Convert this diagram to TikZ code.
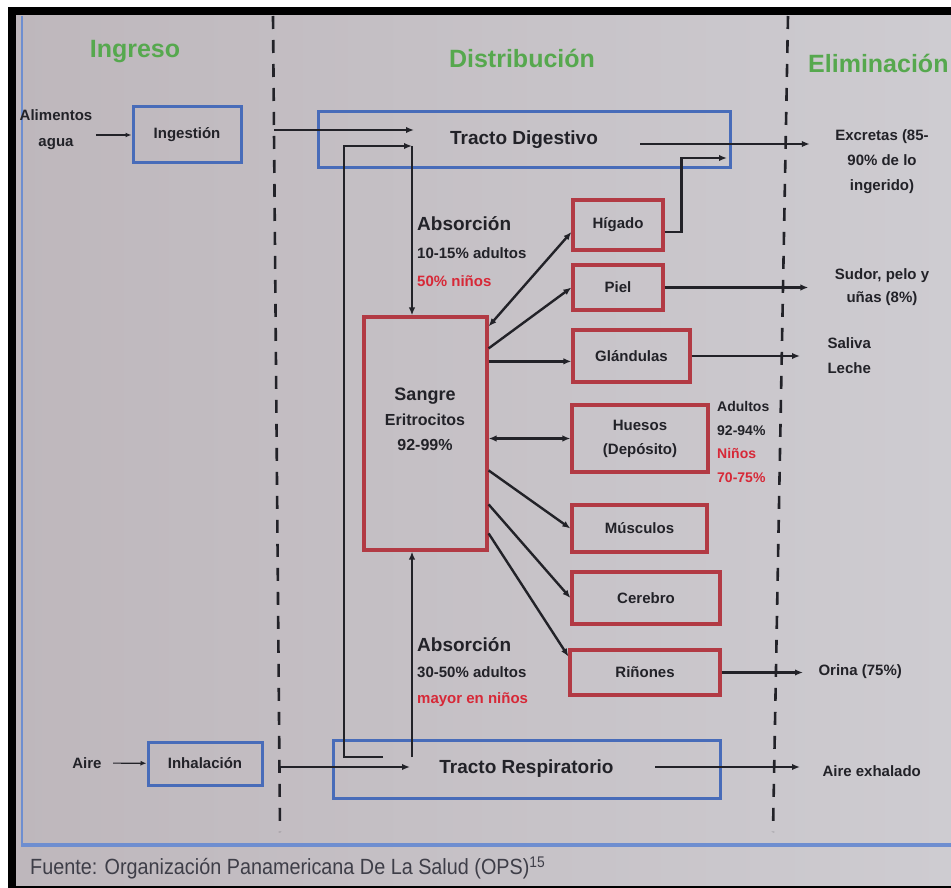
\documentclass[tikz,border=0pt]{standalone}
\usepackage{fontspec}
\setmainfont{Liberation Sans}
\newfontfamily\footfont{Liberation Sans}[FakeStretch=0.9]
\usetikzlibrary{arrows.meta,positioning,calc}
\definecolor{slideleft}{RGB}{190,183,188}
\definecolor{slideright}{RGB}{206,204,209}
\definecolor{boxblue}{RGB}{72,108,185}
\definecolor{frameblue}{RGB}{110,142,208}
\definecolor{boxred}{RGB}{178,58,68}
\definecolor{headgreen}{RGB}{86,168,78}
\definecolor{inkgray}{RGB}{34,34,40}
\definecolor{notered}{RGB}{215,40,55}
\definecolor{footgray}{RGB}{62,62,72}

\begin{document}
\begin{tikzpicture}[x=1pt,y=-1pt,
    every node/.style={font=\bfseries\fontsize{15}{23}\selectfont,text=inkgray},
    bluebox/.style={draw=boxblue,line width=3pt,inner sep=0pt},
    redbox/.style={draw=boxred,line width=3.2pt,inner sep=0pt},
    arr/.style={-{Latex[length=8pt,width=6.5pt]},line width=2.4pt,draw=inkgray},
    biarr/.style={arr,{Latex[length=8pt,width=6.5pt]}-{Latex[length=8pt,width=6.5pt]}},
    thinarr/.style={-{Latex[length=6pt,width=5pt]},line width=1.2pt,draw=inkgray},
    outarr/.style={arr,shorten >=#1},
    phase/.style={font=\bfseries\fontsize{25}{30}\selectfont,text=headgreen},
    divider/.style={draw=inkgray,line width=2.6pt,dash pattern=on 13pt off 11pt},
    note/.style={align=left,anchor=west,inner sep=0pt}]

  \useasboundingbox (0,0) rectangle (951,888);

  % ── slide background and photo frame ─────────────────────────────
  \fill[white] (0,0) rectangle (951,888);
  \shade[left color=slideleft,right color=slideright] (12,11) rectangle (951,888);
  \draw[black,line width=8pt] (12,888) -- (12,11) -- (951,11);
  \draw[black,line width=3pt] (12,887) -- (951,887);
  \draw[frameblue,line width=1.6pt] (22,16) -- (22,845);
  \draw[frameblue,line width=4pt] (21,845) -- (951,845);

  % ── column headers and dividers ──────────────────────────────────
  \node[phase] (ingreso) at (135,52) {Ingreso};
  \node[phase] (distrib) at (522,58) {Distribución};
  \node[phase,anchor=west,inner sep=0pt] (elimin) at (808,63) {Eliminación};

  \draw[divider] (273,16) -- (280,832);
  \draw[divider] (788,16) -- (773,832);

  % ── intake ───────────────────────────────────────────────────────
  \node[bluebox,minimum width=108pt,minimum height=56pt] (ingest) at (187,135) {Ingestión};
  \node[align=center,font=\bfseries\fontsize{15}{26}\selectfont] (alim) at (56,130) {Alimentos\\agua};
  \node[bluebox,minimum width=114pt,minimum height=43pt] (inhal) at (205,763.5) {Inhalación};
  \node (aire) at (87,763) {Aire};

  \draw[thinarr] (alim.east |- ingest.west) -- (ingest.west);
  \draw[thinarr,shorten <=8pt] (aire) -- (inhal);

  % ── tracts ───────────────────────────────────────────────────────
  \node[bluebox,minimum width=412pt,minimum height=56pt,
        font=\bfseries\fontsize{19}{23}\selectfont] (tractdig) at (524,140) {Tracto Digestivo};
  \node[bluebox,minimum width=387pt,minimum height=58pt,
        font=\bfseries\fontsize{19}{23}\selectfont] (tractresp) at (526.5,769) {Tracto Respiratorio};

  % ── blood ────────────────────────────────────────────────────────
  \node[redbox,minimum width=123pt,minimum height=233pt] (sangre) at (425.5,433.5) {};
  \node[align=center,font=\bfseries\fontsize{16}{25}\selectfont] (sangretxt) at (425,419)
    {{\fontsize{18}{22}\selectfont Sangre}\\Eritrocitos\\92-99\%};

  % ── organs ───────────────────────────────────────────────────────
  \node[redbox,minimum width=90pt,minimum height=50pt] (higado) at (618,225) {Hígado};
  \node[redbox,minimum width=90pt,minimum height=45pt] (piel) at (618,287.5) {Piel};
  \node[redbox,minimum width=117pt,minimum height=52pt] (glandulas) at (631.5,356) {Glándulas};
  \node[redbox,minimum width=136pt,minimum height=67pt,align=center,
        font=\bfseries\fontsize{15}{24}\selectfont] (huesos) at (640,438.5) {Huesos\\(Depósito)};
  \node[redbox,minimum width=135pt,minimum height=47pt] (musculos) at (639.5,528.5) {Músculos};
  \node[redbox,minimum width=148pt,minimum height=52pt] (cerebro) at (646,598) {Cerebro};
  \node[redbox,minimum width=150pt,minimum height=45pt] (rinones) at (645,672.5) {Riñones};

  % ── side notes ───────────────────────────────────────────────────
  \node[note,font=\bfseries\fontsize{15}{28}\selectfont] (absdig) at (417,252)
    {{\fontsize{19}{23}\selectfont Absorción}\\10-15\% adultos\\\textcolor{notered}{50\% niños}};
  \node[note,font=\bfseries\fontsize{15}{26}\selectfont] (absresp) at (417,672)
    {{\fontsize{19}{23}\selectfont Absorción}\\30-50\% adultos\\\textcolor{notered}{mayor en niños}};
  \node[note,font=\bfseries\fontsize{14}{23.5}\selectfont] (huesopct) at (717,442)
    {Adultos\\92-94\%\\\textcolor{notered}{Niños}\\\textcolor{notered}{70-75\%}};

  % ── elimination labels ───────────────────────────────────────────
  \node[align=center,font=\bfseries\fontsize{15}{25}\selectfont] (excretas) at (882,162)
    {Excretas (85-\\90\% de lo\\ingerido)};
  \node[align=center] (sudor) at (882,287) {Sudor, pelo y\\uñas (8\%)};
  \node[align=left,anchor=west,font=\bfseries\fontsize{15}{25}\selectfont] (saliva) at (824,355.5) {Saliva\\Leche};
  \node[anchor=west] (orina) at (815,672) {Orina (75\%)};
  \node[anchor=west] (exhal) at (819,771) {Aire exhalado};

  % ── entry and absorption arrows ──────────────────────────────────
  \coordinate (inleft) at (274,130);
  \coordinate (digtip) at (414,130);
  \coordinate (clearin) at (412,146);
  \coordinate (clearbase) at (383,757);
  \coordinate (inlow) at (279,767);
  \coordinate (resptip) at (410,767);
  \coordinate (respabs) at (412,757);

  \draw[arr] (inleft) -- (digtip);
  \draw[arr] (clearbase) -| (344,146) -- (clearin);
  \draw[arr] (clearin) -- (clearin |- sangre.north);
  \draw[arr] (inlow) -- (resptip);
  \draw[arr] (respabs) -- (respabs |- sangre.south);

  % ── blood to organs ──────────────────────────────────────────────
  \coordinate (s3) at ([yshift=-46pt]sangre.north east);
  \draw[biarr] ([yshift=-11pt]sangre.north east) -- ([yshift=-7pt]higado.west);
  \draw[arr] ([yshift=-33pt]sangre.north east) -- (piel.west);
  \draw[arr] (s3) -- (s3 -| glandulas.west);
  \draw[biarr] (sangre.east |- huesos.west) -- (huesos.west);
  \draw[arr] ([yshift=-155pt]sangre.north east) -- (musculos.west);
  \draw[arr] ([yshift=-189pt]sangre.north east) -- (cerebro.west);
  \draw[arr] ([yshift=-218pt]sangre.north east) -- ([yshift=16pt]rinones.west);

  % ── elimination arrows ───────────────────────────────────────────
  \coordinate (digout) at (640,144);
  \coordinate (hepin) at (727,158);
  \coordinate (respout) at (655,767);

  \draw[outarr=22pt] (digout) -- (digout -| excretas.west);
  \draw[arr] ([yshift=-7pt]higado.east) -- ++(17,0) |- (hepin);
  \draw[outarr=23pt] (piel.east) -- (piel.east -| sudor.west);
  \draw[outarr=24pt] (glandulas.east) -- (glandulas.east -| saliva.west);
  \draw[outarr=12pt] (rinones.east) -- (rinones.east -| orina.west);
  \draw[outarr=19pt] (respout) -- (respout -| exhal.west);

  % source line
  \node[anchor=west,inner sep=0pt,text=footgray,font=\footfont\fontsize{22}{26}\selectfont] (fuente) at (30,868)
    {Fuente: Organización Panamericana De La Salud (OPS)\textsuperscript{15}};

\end{tikzpicture}
\end{document}
